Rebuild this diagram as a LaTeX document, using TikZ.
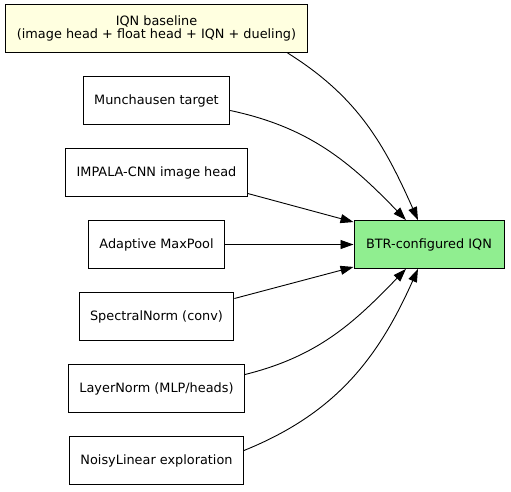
\documentclass[tikz,border=0pt]{standalone}
\usepackage{fontspec}
\setmainfont{DejaVu Sans}
\usepackage{tikz}
\usetikzlibrary{arrows.meta,positioning}

\definecolor{baseyellow}{HTML}{FFFFE0}
\definecolor{btrgreen}{HTML}{90EE90}

\begin{document}
\begin{tikzpicture}[
  x=1pt, y=1pt,
  node distance=23.1pt and 128.5pt,
  box/.style={rectangle, draw, line width=0.9pt, align=center, inner xsep=11pt, minimum height=48pt, font=\fontsize{12.85}{12.85}\selectfont},
  arrow/.style={line width=0.9pt, -{Triangle[length=13pt, width=9pt]}}]

\useasboundingbox (0,0) rectangle (511,-491);

\node[box, fill=baseyellow] (iqn) at (156.5,-28.5) {IQN baseline\\(image head + float head + IQN + dueling)};
\node[box, below=of iqn] (munch) {Munchausen target};
\node[box, below=of munch] (impala) {IMPALA-CNN image head};
\node[box, below=of impala] (pool) {Adaptive MaxPool};
\node[box, below=of pool] (spec) {SpectralNorm (conv)};
\node[box, below=of spec] (layer) {LayerNorm (MLP/heads)};
\node[box, below=of layer] (noisy) {NoisyLinear exploration};
\node[box, fill=btrgreen, minimum width=150pt, right=of pool] (btr) {BTR-configured IQN};

% curved edges into the top and bottom of btr
\draw[arrow] ([xshift=-20pt]iqn.south east) to[out=-32, in=114] ([xshift=-11pt]btr.north);
\draw[arrow] ([yshift=-10pt]munch.east) to[out=-12, in=134] ([xshift=-23pt]btr.north);
\draw[arrow] ([yshift=-21pt]impala.east) -- ([yshift=-2pt]btr.north west);
\draw[arrow] (pool) -- (btr);
\draw[arrow] ([yshift=18pt]spec.east) -- ([yshift=2pt]btr.south west);
\draw[arrow] ([yshift=14pt]layer.east) to[out=14, in=-134] ([xshift=-23pt]btr.south);
\draw[arrow] ([yshift=10pt]noisy.east) to[out=22, in=-114] ([xshift=-11pt]btr.south);

\end{tikzpicture}
\end{document}
